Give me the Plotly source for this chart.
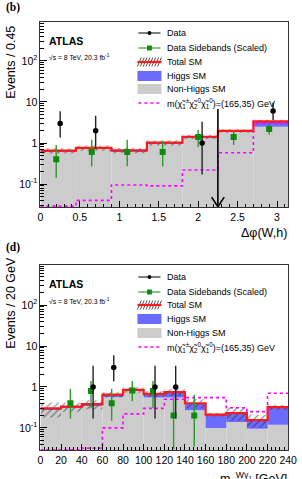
import plotly.graph_objects as go

W, H = 302, 479

# ---------------- panel (b): delta phi(W,h) ----------------
dphi_edges = [0, 0.45, 0.9, 1.35, 1.8, 2.25, 2.7, 3.15]
dphi_total = [0.65, 0.76, 0.66, 1.02, 1.42, 1.98, 3.35]
dphi_nonhiggs = [0.62, 0.72, 0.62, 0.97, 1.35, 1.88, 2.5]
dphi_syst = [0.15, 0.15, 0.15, 0.15, 0.12, 0.1, 0.1]
dphi_signal = [0.029, 0.04, 0.095, 0.09, 0.22, 0.58, 3.0]
dphi_data_x = [0.25, 0.7, 2.05, 2.95]
dphi_data_y = [3, 2, 1, 6]
dphi_data_lo = [1.37, 0.71, 0.17, 3.62]
dphi_data_hi = [5.92, 4.64, 3.3, 9.58]
dphi_sb_x = [0.2, 0.65, 1.1, 1.55, 2.0, 2.45, 2.9]
dphi_sb_y = [0.4, 0.6, 0.6, 0.6, 1.4, 1.4, 2.2]
dphi_sb_lo = [0.14, 0.27, 0.27, 0.27, 0.8, 0.9, 1.6]
dphi_sb_hi = [0.9, 1.2, 1.2, 1.1, 2.1, 2.0, 3.0]
dphi_cut = 2.25
dphi_cut_top = 6.7

# ---------------- panel (d): mT(W gamma1) ----------------
mt_edges = [0, 20, 40, 60, 80, 100, 120, 140, 160, 180, 200, 220, 240]
mt_total = [0.30, 0.33, 0.38, 0.65, 0.85, 0.68, 0.75, 0.40, 0.21, 0.23, 0.155, 0.32]
mt_nonhiggs = [0.28, 0.31, 0.35, 0.60, 0.80, 0.55, 0.55, 0.27, 0.10, 0.14, 0.095, 0.12]
mt_syst = [0.4, 0.25, 0.25, 0.15, 0.15, 0.15, 0.2, 0.25, 0.1, 0.35, 0.35, 0.15]
mt_signal = [0.029, 0.029, 0.032, 0.10, 0.22, 0.30, 0.50, 0.55, 0.55, 0.31, 0.25, 0.70]
mt_data_x = [51, 71, 111, 131]
mt_data_y = [1, 3, 1, 1]
mt_data_lo = [0.17, 1.37, 0.17, 0.17]
mt_data_hi = [3.3, 5.92, 3.3, 3.3]
mt_sb_x = [29, 49, 69, 89, 109, 129, 149]
mt_sb_y = [0.4, 0.8, 0.4, 0.82, 0.8, 0.2, 0.2]
mt_sb_lo = [0.17, 0.3, 0.15, 0.45, 0.3, 0.03, 0.035]
mt_sb_hi = [0.9, 1.4, 0.9, 1.4, 1.4, 0.55, 0.65]

legend_labels = ["Data", "Data Sidebands (Scaled)", "Total SM", "Higgs SM", "Non-Higgs SM",
                 "m(χ̃<sub>1</sub><sup>±</sup>χ̃<sub>2</sub><sup>0</sup>χ̃<sub>1</sub><sup>0</sup>)=(165,35) GeV"]

GRAY = "#cccccc"
BLUE = "#6b6bff"
RED = "#ff1a1a"
GREEN = "#0f8a0f"
MAGENTA = "#ff00ff"
FONT = "Liberation Sans"

fig = go.Figure()


def add_panel(edges, total, nonhiggs, syst, signal, dx, dy, dlo, dhi, sx, sy, slo, shi, xa, ya):
    centers = [(a + b) / 2 for a, b in zip(edges[:-1], edges[1:])]
    widths = [b - a for a, b in zip(edges[:-1], edges[1:])]
    higgs = [t - n for t, n in zip(total, nonhiggs)]
    lo = [t * (1 - s) for t, s in zip(total, syst)]
    band = [t * 2 * s for t, s in zip(total, syst)]
    fig.add_trace(go.Bar(x=centers, y=nonhiggs, width=widths, marker=dict(color=GRAY, line=dict(width=0)),
                         xaxis=xa, yaxis=ya, showlegend=False))
    fig.add_trace(go.Bar(x=centers, y=higgs, base=nonhiggs, width=widths,
                         marker=dict(color=BLUE, line=dict(width=0)), xaxis=xa, yaxis=ya, showlegend=False))
    fig.add_trace(go.Bar(x=centers, y=band, base=lo, width=widths,
                         marker=dict(color="rgba(0,0,0,0)", line=dict(width=0),
                                     pattern=dict(shape="/", fgcolor="#222222", bgcolor="rgba(0,0,0,0)",
                                                  size=5, solidity=0.25)),
                         xaxis=xa, yaxis=ya, showlegend=False))
    fig.add_trace(go.Scatter(x=edges, y=list(total) + [total[-1]], mode="lines",
                             line=dict(color=RED, width=2.2, shape="hv"), xaxis=xa, yaxis=ya, showlegend=False))
    fig.add_trace(go.Scatter(x=edges, y=list(signal) + [signal[-1]], mode="lines",
                             line=dict(color=MAGENTA, width=1.6, shape="hv", dash="dot"),
                             xaxis=xa, yaxis=ya, showlegend=False))
    fig.add_trace(go.Scatter(x=sx, y=sy, mode="markers",
                             marker=dict(symbol="square", size=6, color=GREEN),
                             error_y=dict(type="data", symmetric=False,
                                          array=[h - v for h, v in zip(shi, sy)],
                                          arrayminus=[v - l for l, v in zip(slo, sy)],
                                          color="#2a9a2a", thickness=1.4, width=0),
                             xaxis=xa, yaxis=ya, showlegend=False))
    fig.add_trace(go.Scatter(x=dx, y=dy, mode="markers",
                             marker=dict(symbol="circle", size=5.5, color="black"),
                             error_y=dict(type="data", symmetric=False,
                                          array=[h - v for h, v in zip(dhi, dy)],
                                          arrayminus=[v - l for l, v in zip(dlo, dy)],
                                          color="#222222", thickness=1.4, width=0),
                             xaxis=xa, yaxis=ya, showlegend=False))


add_panel(dphi_edges, dphi_total, dphi_nonhiggs, dphi_syst, dphi_signal,
          dphi_data_x, dphi_data_y, dphi_data_lo, dphi_data_hi,
          dphi_sb_x, dphi_sb_y, dphi_sb_lo, dphi_sb_hi, "x", "y")
add_panel(mt_edges, mt_total, mt_nonhiggs, mt_syst, mt_signal,
          mt_data_x, mt_data_y, mt_data_lo, mt_data_hi,
          mt_sb_x, mt_sb_y, mt_sb_lo, mt_sb_hi, "x2", "y2")

# cut arrow in panel (b)
ybot_b = 10 ** -1.56
fig.add_trace(go.Scatter(x=[dphi_cut, dphi_cut], y=[dphi_cut_top, ybot_b], mode="lines",
                         line=dict(color="black", width=1.6), xaxis="x", yaxis="y", showlegend=False))
fig.add_trace(go.Scatter(x=[dphi_cut - 0.08, dphi_cut, dphi_cut + 0.08], y=[0.048, ybot_b * 1.02, 0.048],
                         mode="lines", line=dict(color="black", width=1.6), xaxis="x", yaxis="y",
                         showlegend=False))


def px(x):
    return x / W


def py(y):
    return 1 - y / H


shapes = []
annotations = []


def add_legend(rows):
    x0, x1, xt = 140, 165, 169
    # Data
    y = rows[0]
    shapes.append(dict(type="line", xref="paper", yref="paper", x0=px(x0 + 1), x1=px(x1 - 1), y0=py(y), y1=py(y),
                       line=dict(color="black", width=1)))
    shapes.append(dict(type="circle", xref="paper", yref="paper", x0=px(150.5), x1=px(154.5), y0=py(y + 2),
                       y1=py(y - 2), fillcolor="black", line=dict(width=0)))
    # sidebands
    y = rows[1]
    shapes.append(dict(type="line", xref="paper", yref="paper", x0=px(x0 + 1), x1=px(x1 - 1), y0=py(y), y1=py(y),
                       line=dict(color=GREEN, width=1)))
    shapes.append(dict(type="rect", xref="paper", yref="paper", x0=px(150), x1=px(155), y0=py(y + 2.5),
                       y1=py(y - 2.5), fillcolor=GREEN, line=dict(width=0)))
    # Total SM (hatch + red line)
    y = rows[2]
    for k in range(8):
        xa = x0 + 3 * k
        xb = min(xa + 4, x1)
        shapes.append(dict(type="line", xref="paper", yref="paper", x0=px(xa), x1=px(xb), y0=py(y + 4.5),
                           y1=py(y + 4.5 - 9 * (xb - xa) / 4), line=dict(color="#222222", width=0.8)))
    shapes.append(dict(type="line", xref="paper", yref="paper", x0=px(x0), x1=px(x1), y0=py(y), y1=py(y),
                       line=dict(color=RED, width=2.2)))
    # Higgs SM
    y = rows[3]
    shapes.append(dict(type="rect", xref="paper", yref="paper", x0=px(x0), x1=px(x1), y0=py(y + 5), y1=py(y - 5),
                       fillcolor=BLUE, line=dict(width=0)))
    # Non-Higgs SM
    y = rows[4]
    shapes.append(dict(type="rect", xref="paper", yref="paper", x0=px(x0), x1=px(x1), y0=py(y + 5), y1=py(y - 5),
                       fillcolor=GRAY, line=dict(width=0)))
    # signal
    y = rows[5]
    shapes.append(dict(type="line", xref="paper", yref="paper", x0=px(x0 + 1), x1=px(x1 - 1), y0=py(y), y1=py(y),
                       line=dict(color=MAGENTA, width=1.6, dash="dot")))
    for lab, y in zip(legend_labels, rows):
        annotations.append(dict(text=lab, xref="paper", yref="paper", x=px(xt), y=py(y), xanchor="left",
                                yanchor="middle", showarrow=False, font=dict(family=FONT, size=9, color="black")))


add_legend([33, 48, 62, 76, 89, 103])
add_legend([277, 292, 305, 319, 333, 347])


def text(t, x, y, size, xanchor="left", yanchor="middle", family=FONT, angle=0):
    annotations.append(dict(text=t, xref="paper", yref="paper", x=px(x), y=py(y), xanchor=xanchor,
                            yanchor=yanchor, showarrow=False, textangle=angle,
                            font=dict(family=family, size=size, color="black")))


text("<b>(b)</b>", 1, 8, 11.5, family="Liberation Serif")
text("<b>(d)</b>", 1, 247, 11.5, family="Liberation Serif")
text("<b>ATLAS</b>", 46, 41, 10.5)
text("<b>ATLAS</b>", 46, 284, 10.5)
text("√s = 8 TeV, 20.3 fb<sup>-1</sup>", 46, 57, 6.8)
text("√s = 8 TeV, 20.3 fb<sup>-1</sup>", 46, 301, 6.8)
text("Events / 0.45", 8, 62, 12.5, xanchor="center", angle=-90)
text("Events / 20 GeV", 8, 303, 12.5, xanchor="center", angle=-90)
text("Δφ(W,h)", 298, 233, 12.5, xanchor="right")
text("m<sub>T</sub><sup>Wγ<sub>1</sub></sup> [GeV]", 298, 468, 12.5, xanchor="right", yanchor="top")

minor_log = [k * 10 ** e for e in range(-2, 3) for k in range(2, 10)]

yax = dict(type="log", tickvals=[0.1, 1, 10, 100],
           ticktext=["10<sup>-1</sup>", "1", "10", "10<sup>2</sup>"],
           ticks="inside", ticklen=7, tickcolor="black", showline=True, mirror=True, linecolor="#333333",
           linewidth=1, showgrid=False, zeroline=False, tickfont=dict(family=FONT, size=10.5, color="black"),
           minor=dict(ticks="inside", ticklen=3.5, tickvals=minor_log, tickcolor="black", showgrid=False))
xax = dict(ticks="inside", ticklen=6, tickcolor="black", showline=True, mirror=True, linecolor="#333333",
           linewidth=1, showgrid=False, zeroline=False, tickfont=dict(family=FONT, size=10.5, color="black"))

fig.update_layout(
    width=W, height=H, margin=dict(l=0, r=0, t=0, b=0),
    paper_bgcolor="white", plot_bgcolor="white", barmode="overlay", showlegend=False,
    xaxis=dict(xax, domain=[39 / W, 297 / W], range=[0, 3.1416], anchor="y",
               tickvals=[0, 0.5, 1, 1.5, 2, 2.5, 3], ticktext=["0", "0.5", "1", "1.5", "2", "2.5", "3"],
               minor=dict(ticks="inside", ticklen=3, dtick=0.1, tick0=0, tickcolor="black", showgrid=False)),
    yaxis=dict(yax, domain=[1 - 207 / H, 1 - 22 / H], range=[-1.56, 2.95], anchor="x"),
    xaxis2=dict(xax, domain=[39 / W, 297 / W], range=[0, 240], anchor="y2", tick0=0, dtick=20,
                ticklabeloverflow="allow",
                minor=dict(ticks="inside", ticklen=3, dtick=4, tick0=0, tickcolor="black", showgrid=False)),
    yaxis2=dict(yax, domain=[1 - 450 / H, 1 - 265 / H], range=[-1.54, 2.98], anchor="x2"),
    shapes=shapes, annotations=annotations,
)

fig.write_html("out.html")
